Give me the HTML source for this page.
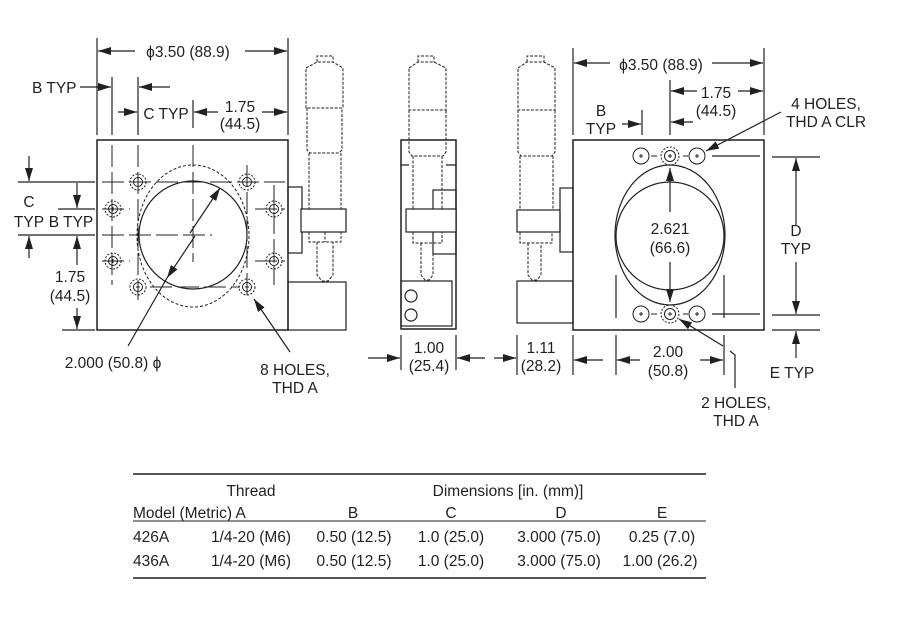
<!DOCTYPE html>
<html><head><meta charset="utf-8"><style>
html,body{margin:0;padding:0;background:#fff;}
svg{display:block;}
text{font-family:"Liberation Sans",sans-serif;font-size:15.5px;fill:#231f20;}
.t{text-anchor:middle;}
</style></head><body>
<svg width="913" height="628" viewBox="0 0 913 628" xmlns="http://www.w3.org/2000/svg">
<defs>
<marker id="a" markerUnits="userSpaceOnUse" markerWidth="14" markerHeight="10" refX="13" refY="4" orient="auto"><path d="M0,0 L13,4 L0,8 z" fill="#231f20"/></marker>
<g id="h" stroke="#231f20" stroke-width="1" fill="none"><circle r="8" stroke-dasharray="2,1.5"/><circle r="4.5"/><path d="M-2,0h4M0,-2v4"/></g>
<g id="k" stroke="#231f20" stroke-width="1" fill="none"><circle r="8"/><path d="M-2,0h4M0,-2v4"/></g>
<g id="m" stroke="#231f20" stroke-width="1" fill="none"><circle r="9" stroke-dasharray="2,1.5"/><circle r="5.5"/><path d="M-2,0h4M0,-2v4"/></g>
</defs>
<g stroke="#231f20" stroke-width="1.2" fill="none">
<!-- LEFT VIEW -->
<rect x="97" y="140" width="191" height="190" stroke-width="1.5"/>
<line x1="97" y1="38" x2="97" y2="135"/><line x1="288" y1="38" x2="288" y2="135"/>
<line x1="135" y1="51" x2="98" y2="51" marker-end="url(#a)"/>
<line x1="245" y1="51" x2="287" y2="51" marker-end="url(#a)"/>
<line x1="112" y1="77" x2="112" y2="135"/><line x1="138" y1="77" x2="138" y2="135"/>
<line x1="80" y1="87" x2="111" y2="87" marker-end="url(#a)"/>
<line x1="170" y1="87" x2="139" y2="87" marker-end="url(#a)"/>
<line x1="118" y1="112" x2="137" y2="112" marker-end="url(#a)"/>
<line x1="193" y1="100" x2="193" y2="128"/>
<line x1="218" y1="112" x2="194" y2="112" marker-end="url(#a)"/>
<line x1="262" y1="112" x2="287" y2="112" marker-end="url(#a)"/>
<g stroke-dasharray="22,5" stroke-width="1">
<line x1="112" y1="145" x2="112" y2="285"/><line x1="138" y1="145" x2="138" y2="300"/>
<line x1="247" y1="165" x2="247" y2="300"/><line x1="274" y1="185" x2="274" y2="285"/>
<line x1="102" y1="182" x2="285" y2="182"/><line x1="102" y1="209" x2="130" y2="209"/><line x1="255" y1="209" x2="285" y2="209"/>
<line x1="102" y1="261" x2="130" y2="261"/><line x1="255" y1="261" x2="285" y2="261"/>
<line x1="150" y1="287" x2="240" y2="287"/>
<line x1="193" y1="145" x2="193" y2="262"/><line x1="102" y1="235" x2="212" y2="235"/>
</g>
<line x1="18" y1="182" x2="95" y2="182"/><line x1="58" y1="209" x2="95" y2="209"/>
<line x1="18" y1="235" x2="95" y2="235"/><line x1="62" y1="330" x2="95" y2="330"/>
<line x1="29" y1="156" x2="29" y2="181" marker-end="url(#a)"/>
<line x1="29" y1="258" x2="29" y2="236" marker-end="url(#a)"/>
<line x1="77" y1="183" x2="77" y2="208" marker-end="url(#a)"/>
<line x1="77" y1="265" x2="77" y2="236" marker-end="url(#a)"/>
<line x1="77" y1="308" x2="77" y2="329" marker-end="url(#a)"/>
<circle cx="193" cy="235" r="54"/>
<ellipse cx="193" cy="236" rx="56" ry="71" stroke-dasharray="3,2" stroke-width="1"/>
<line x1="190" y1="233" x2="220" y2="188" marker-end="url(#a)"/>
<line x1="195" y1="236" x2="167" y2="278" marker-end="url(#a)"/>
<line x1="167" y1="278" x2="128" y2="346"/>
<line x1="290" y1="352" x2="254" y2="299" marker-end="url(#a)"/>
<rect x="288" y="187" width="14" height="66"/>
<rect x="301" y="209" width="45" height="23" fill="#fff"/>
<rect x="288" y="282" width="58" height="48"/>
<g stroke-dasharray="3,1.5" stroke-width="1">
<path d="M317,62 V56 H333 V62 M306,68 L317,62 H333 L343,68 V108 H306 Z M307,108 V150 L310,153 H339 L342,150 V108 M309,153 V209 M341,153 V209 M309,232 V242 H341 V232 M317,242 V275 L322,281 H328 L333,275 V242 M325,232 V242"/>
</g>
<!-- MIDDLE VIEW -->
<rect x="401" y="140" width="55" height="189" stroke-width="1.5"/>
<path d="M401,165 H409 M446,165 H456"/>
<rect x="433" y="190" width="23" height="64"/>
<rect x="406" y="209" width="50" height="23" fill="#fff"/>
<rect x="401" y="281" width="51" height="45"/>
<circle cx="411" cy="296" r="6"/><circle cx="411" cy="315" r="6"/>
<g stroke-dasharray="3,1.5" stroke-width="1">
<path d="M418,62 V56 H434 V62 M409,68 L418,62 H434 L446,68 V110 H409 Z M409,110 V152 L412,156 H443 L446,152 V110 M413,156 V209 M442,156 V209 M413,232 V243 H442 V232 M421,243 V275 L425,280 H429 L433,275 V243"/>
</g>
<line x1="401" y1="335" x2="401" y2="370"/><line x1="456" y1="335" x2="456" y2="370"/>
<line x1="368" y1="358" x2="400" y2="358" marker-end="url(#a)"/>
<line x1="485" y1="358" x2="457" y2="358" marker-end="url(#a)"/>
<!-- THIRD VIEW -->
<rect x="517" y="210" width="43" height="22"/>
<rect x="560" y="188" width="13" height="64"/>
<rect x="517" y="281" width="56" height="42"/>
<g stroke-dasharray="3,1.5" stroke-width="1">
<path d="M527,62 V56 H544 V62 M518,68 L527,62 H544 L555,68 V110 H518 Z M518,110 V152 L521,156 H552 L555,152 V110 M520,156 V210 M553,156 V210 M520,232 V243 H552 V232 M528,243 V275 L532,280 H537 L541,275 V243"/>
</g>
<line x1="517" y1="335" x2="517" y2="375"/>
<line x1="494" y1="358" x2="516" y2="358" marker-end="url(#a)"/>
<!-- RIGHT VIEW -->
<rect x="573" y="140" width="191" height="190" stroke-width="1.5"/>
<line x1="573" y1="48" x2="573" y2="135"/><line x1="764" y1="48" x2="764" y2="135"/>
<line x1="610" y1="63" x2="574" y2="63" marker-end="url(#a)"/>
<line x1="712" y1="63" x2="763" y2="63" marker-end="url(#a)"/>
<line x1="670" y1="80" x2="670" y2="135"/>
<line x1="697" y1="91" x2="671" y2="91" marker-end="url(#a)"/>
<line x1="738" y1="91" x2="763" y2="91" marker-end="url(#a)"/>
<line x1="693" y1="122" x2="671" y2="122" marker-end="url(#a)"/>
<line x1="642" y1="110" x2="642" y2="135"/>
<line x1="622" y1="124" x2="641" y2="124" marker-end="url(#a)"/>
<line x1="781" y1="112" x2="706" y2="151" marker-end="url(#a)"/>
<ellipse cx="670" cy="235" rx="55" ry="70"/>
<circle cx="670" cy="236" r="54"/>
<line x1="670" y1="212" x2="670" y2="168" marker-end="url(#a)"/>
<line x1="670" y1="262" x2="670" y2="302" marker-end="url(#a)"/>
<use href="#k" x="641" y="156"/><use href="#m" x="670" y="156"/><use href="#k" x="697" y="156"/>
<use href="#k" x="641" y="314"/><use href="#m" x="670" y="314"/><use href="#k" x="697" y="314"/>
<path d="M651,156h6M683,156h5M651,314h6M683,314h5" stroke-width="1"/>
<line x1="712" y1="156" x2="760" y2="156"/><line x1="712" y1="314" x2="760" y2="314"/>
<line x1="772" y1="157" x2="820" y2="157"/><line x1="772" y1="315" x2="820" y2="315"/><line x1="772" y1="330" x2="820" y2="330"/>
<line x1="796" y1="225" x2="796" y2="158" marker-end="url(#a)"/>
<line x1="796" y1="262" x2="796" y2="314" marker-end="url(#a)"/>
<line x1="796" y1="358" x2="796" y2="331" marker-end="url(#a)"/>
<line x1="616" y1="275" x2="616" y2="318"/><line x1="724" y1="275" x2="724" y2="318"/>
<line x1="616" y1="335" x2="616" y2="375"/><line x1="724" y1="335" x2="724" y2="375"/>
<line x1="573" y1="335" x2="573" y2="375"/>
<line x1="603" y1="360" x2="574" y2="360" marker-end="url(#a)"/>
<line x1="640" y1="360" x2="617" y2="360" marker-end="url(#a)"/>
<line x1="700" y1="360" x2="723" y2="360" marker-end="url(#a)"/>
<line x1="723" y1="346" x2="679" y2="319" marker-end="url(#a)"/>
<path d="M730,351 L735,355 V388"/>
<!-- TABLE -->
<line x1="133" y1="474" x2="706" y2="474" stroke-width="1.5"/>
<line x1="133" y1="521" x2="706" y2="521" stroke-width="1"/>
<line x1="133" y1="578" x2="706" y2="578" stroke-width="1.5"/>
</g>
<use href="#h" x="138" y="182"/><use href="#h" x="247" y="182"/>
<use href="#h" x="113" y="209"/><use href="#h" x="274" y="209"/>
<use href="#h" x="113" y="261"/><use href="#h" x="274" y="261"/>
<use href="#h" x="138" y="287"/><use href="#h" x="247" y="287"/>
<g>
<text x="188" y="57" class="t">ϕ3.50 (88.9)</text>
<text x="32" y="93">B TYP</text>
<text x="166" y="119" class="t">C TYP</text>
<text x="240" y="112" class="t">1.75</text>
<text x="240" y="129" class="t">(44.5)</text>
<text x="29" y="207" class="t">C</text>
<text x="29" y="227" class="t">TYP</text>
<text x="71" y="227" class="t">B TYP</text>
<text x="70" y="282" class="t">1.75</text>
<text x="70" y="301" class="t">(44.5)</text>
<text x="113" y="368" class="t">2.000 (50.8) ϕ</text>
<text x="295" y="375" class="t">8 HOLES,</text>
<text x="295" y="393" class="t">THD A</text>
<text x="429" y="353" class="t">1.00</text>
<text x="429" y="371" class="t">(25.4)</text>
<text x="541" y="353" class="t">1.11</text>
<text x="541" y="371" class="t">(28.2)</text>
<text x="661" y="70" class="t">ϕ3.50 (88.9)</text>
<text x="716" y="98" class="t">1.75</text>
<text x="716" y="116" class="t">(44.5)</text>
<text x="601" y="116" class="t">B</text>
<text x="601" y="134" class="t">TYP</text>
<text x="826" y="109" class="t">4 HOLES,</text>
<text x="826" y="127" class="t">THD A CLR</text>
<text x="670" y="234" class="t">2.621</text>
<text x="670" y="253" class="t">(66.6)</text>
<text x="796" y="236" class="t">D</text>
<text x="796" y="254" class="t">TYP</text>
<text x="792" y="378" class="t">E TYP</text>
<text x="668" y="357" class="t">2.00</text>
<text x="668" y="376" class="t">(50.8)</text>
<text x="736" y="408" class="t">2 HOLES,</text>
<text x="736" y="426" class="t">THD A</text>
<text x="251" y="496" class="t">Thread</text>
<text x="508" y="496" class="t">Dimensions [in. (mm)]</text>
<text x="133" y="518">Model (Metric) A</text>
<text x="353" y="518" class="t">B</text>
<text x="451" y="518" class="t">C</text>
<text x="561" y="518" class="t">D</text>
<text x="662" y="518" class="t">E</text>
<text x="133" y="542">426A</text>
<text x="251" y="542" class="t">1/4-20 (M6)</text>
<text x="354" y="542" class="t">0.50 (12.5)</text>
<text x="451" y="542" class="t">1.0 (25.0)</text>
<text x="559" y="542" class="t">3.000 (75.0)</text>
<text x="662" y="542" class="t">0.25 (7.0)</text>
<text x="133" y="566">436A</text>
<text x="251" y="566" class="t">1/4-20 (M6)</text>
<text x="354" y="566" class="t">0.50 (12.5)</text>
<text x="451" y="566" class="t">1.0 (25.0)</text>
<text x="559" y="566" class="t">3.000 (75.0)</text>
<text x="660" y="566" class="t">1.00 (26.2)</text>
</g>
</svg>
</body></html>
